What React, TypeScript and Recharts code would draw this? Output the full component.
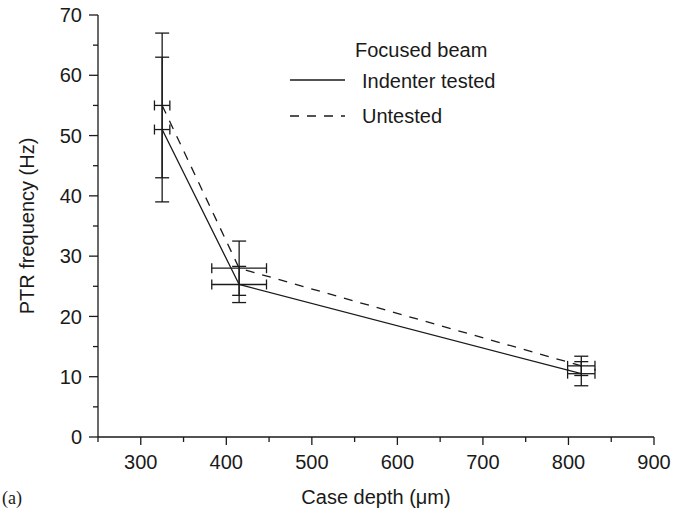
import { ComposedChart, Scatter, ErrorBar, XAxis, YAxis } from 'recharts'

const depth = [325, 415, 815]
const depthErr = [9, 32, 16]
const indenterFreq = [51, 25.3, 10.5]
const indenterErr = [12, 3, 2]
const untestedFreq = [55, 28, 11.8]
const untestedErr = [12, 4.5, 1.6]

const xTicks = [250, 300, 350, 400, 450, 500, 550, 600, 650, 700, 750, 800, 850, 900]
const yTicks = [0, 5, 10, 15, 20, 25, 30, 35, 40, 45, 50, 55, 60, 65, 70]

const indenter = depth.map((x, i) => ({ x, y: indenterFreq[i], ex: depthErr[i], ey: indenterErr[i] }))
const untested = depth.map((x, i) => ({ x, y: untestedFreq[i], ex: depthErr[i], ey: untestedErr[i] }))

const FONT = '"Liberation Sans", Arial, Helvetica, sans-serif'
const INK = '#1a1a1a'

// tick lines drawn by hand so major/minor can have different lengths
function BottomTick(props: any) {
  const { x, y, payload } = props
  const major = payload.value % 100 === 0
  return (
    <g>
      <line x1={x} x2={x} y1={y} y2={y + (major ? 8 : 5)} stroke={INK} strokeWidth={1.3} />
      {major && payload.value !== 250 && (
        <text x={x} y={y + 32} textAnchor="middle" fontSize={20} fontFamily={FONT} fill={INK}>
          {payload.value}
        </text>
      )}
    </g>
  )
}

function TopTick(props: any) {
  const { x, y, payload } = props
  const major = payload.value % 100 === 0
  return <line x1={x} x2={x} y1={y} y2={y + (major ? 8 : 5)} stroke={INK} strokeWidth={1.3} />
}

function LeftTick(props: any) {
  const { x, y, payload } = props
  const major = payload.value % 10 === 0
  return (
    <g>
      <line x1={x} x2={x - (major ? 9 : 5)} y1={y} y2={y} stroke={INK} strokeWidth={1.3} />
      {major && (
        <text x={x - 16} y={y} dy="0.36em" textAnchor="end" fontSize={20} fontFamily={FONT} fill={INK}>
          {payload.value}
        </text>
      )}
    </g>
  )
}

function RightTick(props: any) {
  const { x, y, payload } = props
  const major = payload.value % 10 === 0
  return <line x1={x} x2={x - (major ? 8 : 5)} y1={y} y2={y} stroke={INK} strokeWidth={1.3} />
}

const noMark = () => <g />

export default function App() {
  return (
    <div style={{ position: 'absolute', left: 0, top: 0, width: 688, height: 513, background: '#fff' }}>
      <ComposedChart width={688} height={513} margin={{ top: 15, right: 34, bottom: 0, left: 38 }}>
        <XAxis
          xAxisId="b"
          type="number"
          dataKey="x"
          domain={[250, 900]}
          allowDataOverflow
          ticks={xTicks}
          interval={0}
          tickSize={0}
          tickMargin={0}
          tickLine={false}
          tick={<BottomTick />}
          height={76}
          axisLine={{ stroke: INK, strokeWidth: 1.3 }}
        />
        <XAxis
          xAxisId="t"
          orientation="top"
          type="number"
          domain={[250, 900]}
          allowDataOverflow
          ticks={xTicks}
          interval={0}
          tickSize={0}
          tickMargin={0}
          tickLine={false}
          tick={<TopTick />}
          height={0}
          axisLine={{ stroke: INK, strokeWidth: 1.3 }}
        />
        <YAxis
          yAxisId="l"
          type="number"
          domain={[0, 70]}
          allowDataOverflow
          ticks={yTicks}
          interval={0}
          tickSize={0}
          tickMargin={0}
          tickLine={false}
          tick={<LeftTick />}
          width={60}
          axisLine={{ stroke: INK, strokeWidth: 1.3 }}
        />
        <YAxis
          yAxisId="r"
          orientation="right"
          type="number"
          domain={[0, 70]}
          allowDataOverflow
          ticks={yTicks}
          interval={0}
          tickSize={0}
          tickMargin={0}
          tickLine={false}
          tick={<RightTick />}
          width={0}
          axisLine={{ stroke: INK, strokeWidth: 1.3 }}
        />
        <Scatter
          name="Indenter tested"
          data={indenter}
          xAxisId="b"
          yAxisId="l"
          dataKey="y"
          shape={noMark}
          line={{ stroke: INK, strokeWidth: 1.3 }}
          lineType="joint"
          isAnimationActive={false}
        >
          <ErrorBar dataKey="ey" direction="y" width={7} stroke={INK} strokeWidth={1.3} />
          <ErrorBar dataKey="ex" direction="x" width={5} stroke={INK} strokeWidth={1.3} />
        </Scatter>
        <Scatter
          name="Untested"
          data={untested}
          xAxisId="b"
          yAxisId="l"
          dataKey="y"
          shape={noMark}
          line={{ stroke: INK, strokeWidth: 1.3, strokeDasharray: '9 8' }}
          lineType="joint"
          isAnimationActive={false}
        >
          <ErrorBar dataKey="ey" direction="y" width={7} stroke={INK} strokeWidth={1.3} />
          <ErrorBar dataKey="ex" direction="x" width={5} stroke={INK} strokeWidth={1.3} />
        </Scatter>
      </ComposedChart>

      <svg width={688} height={513} style={{ position: 'absolute', left: 0, top: 0, pointerEvents: 'none' }}>
        <g fontFamily={FONT} fontSize={20} fill={INK}>
          <text x={355} y={57}>Focused beam</text>
          <line x1={290} x2={345} y1={80} y2={80} stroke={INK} strokeWidth={1.3} />
          <text x={362} y={88}>Indenter tested</text>
          <line x1={290} x2={345} y1={116} y2={116} stroke={INK} strokeWidth={1.3} strokeDasharray="9 8" />
          <text x={362} y={123}>Untested</text>
          <text x={376} y={504} textAnchor="middle">Case depth (μm)</text>
          <text x={27} y={226} dy="0.36em" textAnchor="middle" transform="rotate(-90, 27, 226)">
            PTR frequency (Hz)
          </text>
        </g>
        <text x={2} y={504} fontFamily='"Liberation Serif", "Times New Roman", serif' fontSize={18} fill={INK}>
          (a)
        </text>
      </svg>
    </div>
  )
}
